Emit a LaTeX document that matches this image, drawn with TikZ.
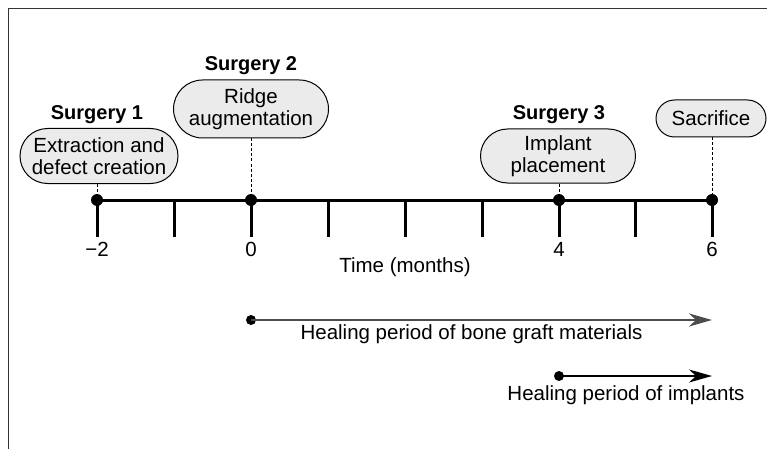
\documentclass[tikz,border=0pt]{standalone}
\usepackage{fontspec}
\setmainfont{Liberation Sans}
\usetikzlibrary{shapes.misc,arrows.meta}
\tikzset{
  bubble/.style={rounded rectangle, draw=black, line width=1pt, fill=black!8, align=center, inner sep=0pt, font=\fontsize{20.5}{22}\selectfont},
  surg/.style={font=\fontsize{20}{22}\selectfont\bfseries, inner sep=0pt},
  lbl/.style={font=\fontsize{20.5}{22}\selectfont, inner sep=0pt},
  dot/.style={circle, fill=black, inner sep=0pt, minimum size=12pt},
  sdot/.style={circle, fill=black, inner sep=0pt, minimum size=10pt},
  axis/.style={line width=3pt},
  tickline/.style={line width=3pt},
  guide/.style={line width=1pt, dash pattern=on 3pt off 2pt},
  period/.style={line width=2pt, -{Stealth[length=23pt,width=13pt,inset=7pt]}},
  frame/.style={line width=1.5pt, draw=black!80}
}
\begin{document}
\begin{tikzpicture}[x=1pt,y=-1pt]
\useasboundingbox (0,0) rectangle (767,449);
% frame
\coordinate (f1) at (8.5,449);
\coordinate (f2) at (8.5,8.5);
\coordinate (f3) at (767,8.5);
\draw[frame] (f1) -- (f2) -- (f3);
% timeline dots
\node[dot] (m2) at (97,200) {};
\node[dot] (z0) at (251,200) {};
\node[dot] (p4) at (559,200) {};
\node[dot] (p6) at (712,200) {};
\draw[axis] (m2.center) -- (p6.center);
% ticks
\foreach \n/\x in {tm2/97,tm1/174,t0/251,t1/328,t2/405,t3/482,t4/559,t5/635,t6/712}{
  \coordinate (\n a) at (\x,200);
  \coordinate (\n b) at (\x,237);
  \draw[tickline] (\n a) -- (\n b);
}
% tick labels
\node[lbl] (l1) at (97,249) {−2};
\node[lbl] (l2) at (251,249) {0};
\node[lbl] (l3) at (559,249) {4};
\node[lbl] (l4) at (712,249) {6};
\node[lbl] (time) at (405,267) {Time (months)};
% bubbles
\node[bubble, minimum width=158pt, minimum height=55pt] (b1) at (99,156) {Extraction and\\defect creation};
\node[bubble, minimum width=155pt, minimum height=58pt] (b2) at (251,109) {Ridge\\augmentation};
\node[bubble, minimum width=155pt, minimum height=54pt] (b3) at (558,156) {Implant\\placement};
\node[bubble, minimum width=110pt, minimum height=37pt] (b4) at (711,118.5) {Sacrifice};
% surgery labels
\node[surg] (s1) at (97,115) {Surgery 1};
\node[surg] (s2) at (251,66) {Surgery 2};
\node[surg] (s3) at (559,115) {Surgery 3};
% guides
\draw[guide] (b1.south -| m2) -- (m2);
\draw[guide] (b2.south) -- (z0);
\draw[guide] (b3.south -| p4) -- (p4);
\draw[guide] (b4.south -| p6) -- (p6);
% healing periods
\node[sdot] (h1s) at (251,320) {};
\coordinate (h1e) at (712,320);
\draw[period, draw=black!70] (h1s.center) -- (h1e);
\node[lbl] (h1l) at (471.5,334) {Healing period of bone graft materials};
\node[sdot] (h2s) at (559,376) {};
\coordinate (h2e) at (712,376);
\draw[period, line width=1.5pt] (h2s.center) -- (h2e);
\node[lbl] (h2l) at (626,395) {Healing period of implants};
\end{tikzpicture}
\end{document}
